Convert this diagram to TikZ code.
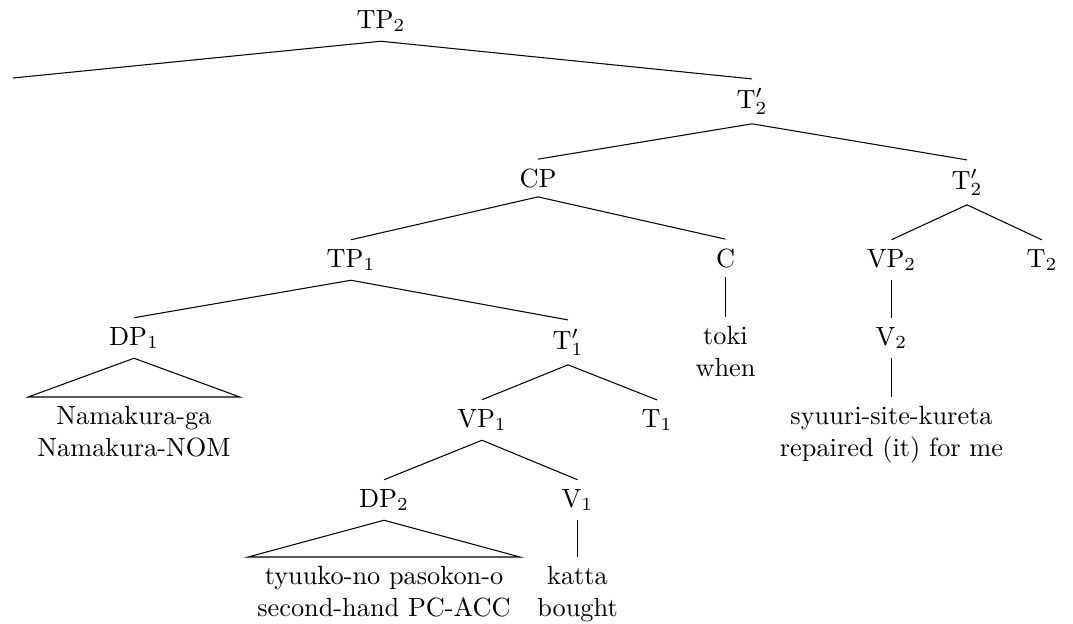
\documentclass[tikz,border=0pt]{standalone}
\begin{document}
\begin{tikzpicture}[x=0.38pt,y=-0.38pt,
  cat/.style={anchor=base,inner sep=0.3333em},
  leaf/.style={anchor=north,align=center,inner sep=0.3333em},
  edge/.style={line width=0.4pt}]
\useasboundingbox (0,0) rectangle (1073,623);
% level 0
\node[cat] (tp2) at (381,28) {TP$_2$};
% level 1
\coordinate (e0) at (13,78);
\node[cat] (t2a) at (752,108) {T$'_2$};
% level 2
\node[cat] (cp) at (538,187) {CP};
\node[cat] (t2b) at (967,189) {T$'_2$};
% level 3
\node[cat] (tp1) at (351,267) {TP$_1$};
\node[cat] (c) at (725.5,267) {C};
\node[cat] (vp2) at (891.5,267) {VP$_2$};
\node[cat] (t2) at (1042,267) {T$_2$};
% level 4
\node[cat] (dp1) at (134,345) {DP$_1$};
\node[cat] (t1a) at (568,349) {T$'_1$};
\node[leaf] (toki) at (725.5,317) {toki\\when};
\node[cat] (v2) at (891.5,345) {V$_2$};
% level 5
\node[leaf] (nam) at (134,397) {Namakura-ga\\Namakura-NOM};
\node[cat] (vp1) at (482,427) {VP$_1$};
\node[cat] (t1) at (657,427) {T$_1$};
\node[leaf] (syu) at (891.5,397) {syuuri-site-kureta\\repaired (it) for me};
% level 6
\node[cat] (dp2) at (384,507) {DP$_2$};
\node[cat] (v1) at (577.5,507) {V$_1$};
% level 7
\node[leaf] (tyu) at (384,557) {tyuuko-no pasokon-o\\second-hand PC-ACC};
\node[leaf] (kat) at (577.5,557) {katta\\bought};
% edges
\draw[edge] (tp2.south) -- (e0);
\draw[edge] (tp2.south) -- (t2a.north);
\draw[edge] (t2a.south) -- (cp.north);
\draw[edge] (t2a.south) -- (t2b.north);
\draw[edge] (cp.south) -- (tp1.north);
\draw[edge] (cp.south) -- (c.north);
\draw[edge] (t2b.south) -- (vp2.north);
\draw[edge] (t2b.south) -- (t2.north);
\draw[edge] (tp1.south) -- (dp1.north);
\draw[edge] (tp1.south) -- (t1a.north);
\draw[edge] (c.south) -- (toki.north);
\draw[edge] (vp2.south) -- (v2.north);
\draw[edge] (dp1.south) -- (nam.north west) -- (nam.north east) -- cycle;
\draw[edge] (t1a.south) -- (vp1.north);
\draw[edge] (t1a.south) -- (t1.north);
\draw[edge] (v2.south) -- (syu.north);
\draw[edge] (vp1.south) -- (dp2.north);
\draw[edge] (vp1.south) -- (v1.north);
\draw[edge] (dp2.south) -- (tyu.north west) -- (tyu.north east) -- cycle;
\draw[edge] (v1.south) -- (kat.north);
\end{tikzpicture}
\end{document}
